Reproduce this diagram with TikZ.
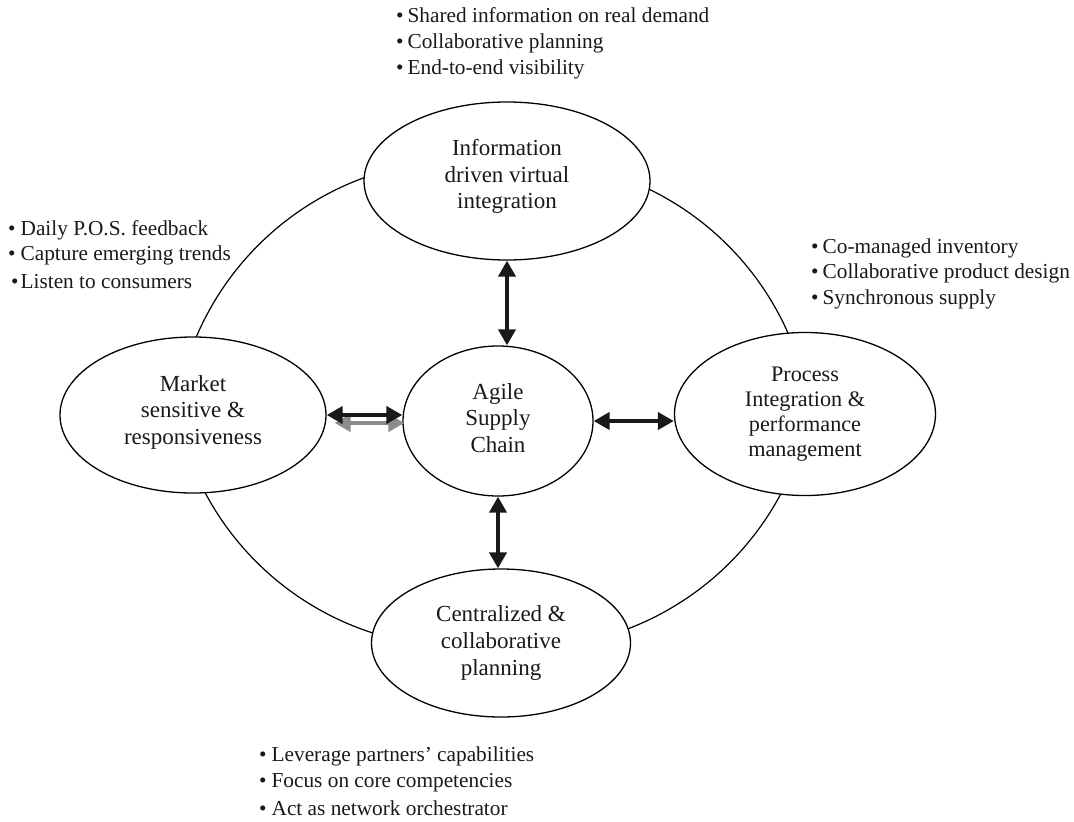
\documentclass[tikz,border=0pt]{standalone}
\usepackage{fontspec}
\setmainfont{Liberation Serif}
\usetikzlibrary{shapes.geometric,arrows.meta,calc}
\begin{document}
\begin{tikzpicture}[x=1pt,y=-1pt,
  every node/.style={font=\fontsize{21.3}{26.5}\selectfont, text=black!90},
  oval/.style={ellipse, draw, line width=1.3pt, fill=white, inner sep=0pt, align=center,
    font=\fontsize{23}{26.8}\selectfont},
  ring/.style={line width=1.2pt},
  dbl/.style={line width=4.8pt, draw=black!90, {Triangle[length=16pt,width=17pt]}-{Triangle[length=16pt,width=17pt]}},
  shadowarrow/.style={dbl, draw=black!45},
  bul/.style={anchor=base west, inner sep=0pt}
]
\useasboundingbox (0,0) rectangle (1074,822);
% the ring, in four arcs
\draw[ring] ([shift={(252:291)}]464,451) arc[start angle=252,end angle=200,radius=291];
\draw[ring] ([shift={(293:291)}]522,451) arc[start angle=293,end angle=339,radius=291];
\draw[ring] ([shift={(154:291)}]462,356) arc[start angle=154,end angle=105,radius=291];
\draw[ring] ([shift={(25:291)}]524,357) arc[start angle=25,end angle=71,radius=291];
% ovals
\node[oval, minimum width=286pt, minimum height=158pt] (info) at (507,181) {Information\\driven virtual\\integration\rule[-14pt]{0pt}{1pt}};
\node[oval, minimum width=266pt, minimum height=156pt] (market) at (193,415) {Market\\sensitive \&\\responsiveness\rule[-10pt]{0pt}{1pt}};
\node[oval, minimum width=190pt, minimum height=150pt] (agile) at (498,421) {Agile\\Supply\\Chain\rule[-6pt]{0pt}{1pt}};
\node[oval, minimum width=261pt, minimum height=163pt, font=\fontsize{22.2}{25}\selectfont] (process) at (805,414) {Process\\Integration \&\\performance\\management};
\node[oval, minimum width=259pt, minimum height=148pt] (centr) at (501,643) {Centralized \&\\collaborative\\planning};
% arrows
\draw[shadowarrow] ($(market.east)+(8,8)$) -- ($(market.east -| agile.west)+(2,8)$);
\draw[dbl] (market.east) -- (market.east -| agile.west);
\draw[dbl] (agile.east) -- (agile.east -| process.west);
\draw[dbl] (info.south) -- (info.south |- agile.north);
\draw[dbl] (agile.south) -- (agile.south |- centr.north);
% bullet lists
\node[bul] (t1) at (396,22.3) {•\hspace{4pt}Shared information on real demand};
\node[bul] (t2) at (396,48.3) {•\hspace{4pt}Collaborative planning};
\node[bul] (t3) at (396,74) {•\hspace{4pt}End-to-end visibility};
\node[bul] (l1) at (8,235) {•\hspace{5pt}Daily P.O.S. feedback};
\node[bul] (l2) at (8,260) {•\hspace{5pt}Capture emerging trends};
\node[bul] (l3) at (11,288) {•\hspace{2pt}Listen to consumers};
\node[bul] (r1) at (811,253) {•\hspace{4pt}Co-managed inventory};
\node[bul] (r2) at (811,278) {•\hspace{4pt}Collaborative product design};
\node[bul] (r3) at (811,304) {•\hspace{4pt}Synchronous supply};
\node[bul] (b1) at (259,761) {•\hspace{5pt}Leverage partners’ capabilities};
\node[bul] (b2) at (259,787) {•\hspace{5pt}Focus on core competencies};
\node[bul] (b3) at (259,815) {•\hspace{5pt}Act as network orchestrator};
\end{tikzpicture}
\end{document}
